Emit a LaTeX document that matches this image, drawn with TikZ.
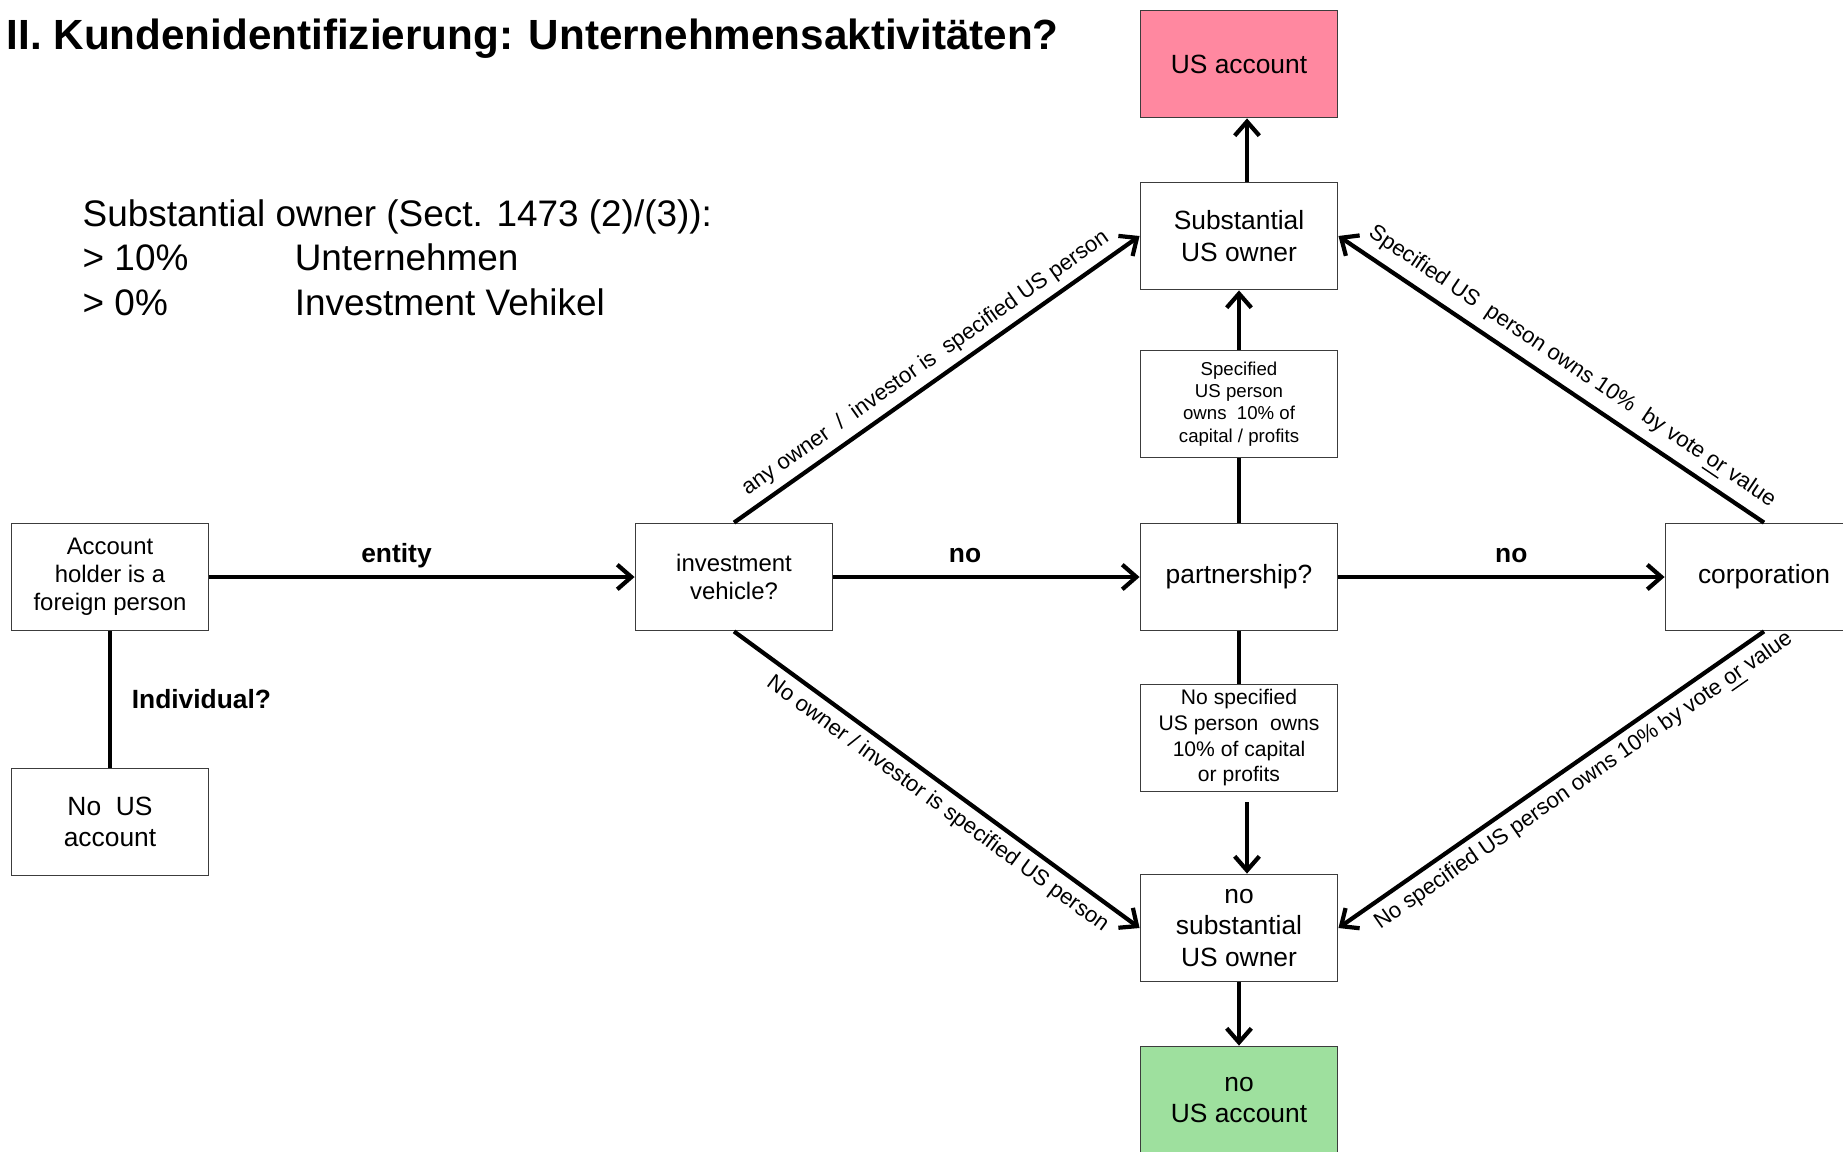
\documentclass[tikz,border=0pt]{standalone}
\usepackage{fontspec}
\setmainfont{Liberation Sans}
\usepackage{tikz}
\usetikzlibrary{arrows.meta,positioning}
\usepackage{xcolor}
\definecolor{accred}{RGB}{255,136,160}
\definecolor{accgreen}{RGB}{158,224,158}
\definecolor{boxgray}{RGB}{60,60,60}
\tikzset{
    box/.style={rectangle, draw=boxgray, line width=0.5pt, fill=white, minimum width=1.97cm, minimum height=1.07cm, align=center, inner sep=1pt, font=\fontsize{7.5}{9}\selectfont},
    boxR/.style={box, fill=accred},
    boxG/.style={box, fill=accgreen},
    smallbox/.style={box, font=\fontsize{6}{7.3}\selectfont},
    arr/.style={line width=1.2pt, -{Straight Barb[length=4pt,width=7pt]}},
    lnk/.style={line width=1.2pt},
    edgelabel/.style={font=\bfseries\fontsize{7.5}{9}\selectfont, text depth=0pt, above=0.3pt},
    slopelabel/.style={font=\fontsize{6.3}{7.5}\selectfont, sloped, inner sep=2pt},
}

\begin{document}
\begin{tikzpicture}[x=0.01cm, y=-0.01cm]
    \useasboundingbox (0,0) rectangle (1843,1151);

    % heading and legend
    \node[anchor=base west, inner sep=0, font=\bfseries\fontsize{12}{14}\selectfont] (title) at (6,49) {II. Kundenidentifizierung: Unternehmensaktivitäten?};
    \node[anchor=base west, align=left, inner sep=0, font=\fontsize{10.5}{12.6}\selectfont] (legend) at (82,315)
        {Substantial owner (Sect. 1473 (2)/(3)):\\ \makebox[2.12cm][l]{> 10\%}Unternehmen\\ \makebox[2.12cm][l]{> 0\%}Investment Vehikel};

    % boxes
    \node[box, font=\fontsize{6.8}{8}\selectfont] (holder) at (110,577) {Account\\holder is a\\foreign person};
    \node[box] (nous) at (110,822) {No~ US\\account};
    \node[box, font=\fontsize{6.8}{8}\selectfont] (invveh) at (734,577) {investment\\vehicle?};
    \node[boxR] (usacc) at (1239,64) {US account};
    \node[box] (subown) at (1239,236) {Substantial\\US owner};
    \node[smallbox, font=\fontsize{5.3}{6.35}\selectfont] (spec) at (1239,404) {Specified\\US person\\owns~ 10\% of\\capital / profits};
    \node[box] (partner) at (1239,577) {partnership?};
    \node[smallbox] (nospec) at (1239,738) {No specified\\US person~ owns\\10\% of capital\\or profits};
    \node[box] (nosub) at (1239,928) {no\\substantial\\US owner};
    \node[boxG] (nousacc) at (1239,1100) {no\\US account};
    \node[box] (corp) at (1764,577) {corporation};

    % connectors
    \draw[arr] (holder) -- node[edgelabel, pos=0.44] {entity} (invveh);
    \draw[lnk] (holder) -- node[right=0.08cm, font=\bfseries\fontsize{7.5}{9}\selectfont] {Individual?} (nous);
    \draw[arr] (invveh) -- node[edgelabel, pos=0.43] {no} (partner);
    \draw[arr] (partner) -- node[edgelabel, pos=0.53] {no} (corp);
    \draw[arr] (invveh.north) -- node[slopelabel, above] {any owner~ /~ investor is~ specified US person} (subown.west);
    \draw[arr] (invveh.south) -- node[slopelabel, below, pos=0.53] {No owner / investor is specified US person} (nosub.west);
    \draw[arr] (corp.north) -- node[slopelabel, above, pos=0.48] {Specified US~ person owns 10\%~ by vote \underline{or} value} (subown.east);
    \draw[arr] (corp.south) -- node[slopelabel, below, pos=0.45] {No specified US person owns 10\% by vote \underline{or} value} (nosub.east);
    \draw[lnk] (partner) -- (spec);
    \draw[arr] (spec) -- (subown);
    \draw[lnk] (partner) -- (nospec);
    \draw[arr, shorten <=0.1cm] ([xshift=0.08cm]nospec.south) -- ([xshift=0.08cm]nosub.north);
    \draw[arr] ([xshift=0.08cm]subown.north) -- ([xshift=0.08cm]usacc.south);
    \draw[arr] (nosub) -- (nousacc);
\end{tikzpicture}
\end{document}
